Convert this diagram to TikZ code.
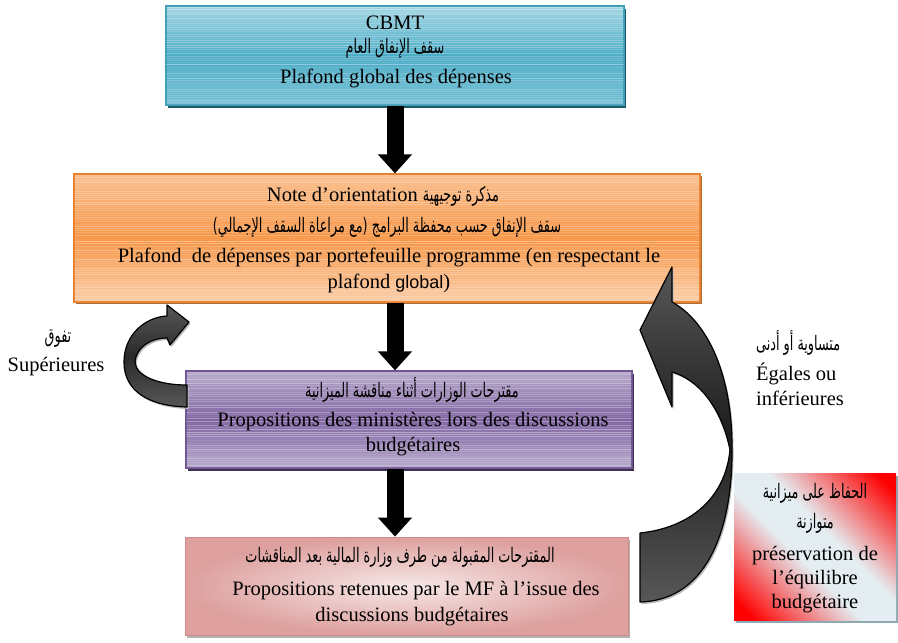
\documentclass[tikz,border=0pt]{standalone}
\usepackage{fontspec}
\setmainfont{Liberation Serif}
\newfontfamily\arabicfont[Script=Arabic,FakeStretch=0.64]{DejaVu Sans}
\newfontfamily\sansfnt{Liberation Sans}
\TeXXeTstate=1
\usetikzlibrary{shadows,arrows.meta}
\newcommand{\artxt}[1]{{\arabicfont\fontsize{20}{22}\selectfont\beginR #1\endR}}

\definecolor{tealA}{HTML}{A3D6E4}
\definecolor{tealB}{HTML}{4BACC6}
\definecolor{tealC}{HTML}{79C2D6}
\definecolor{tealBorder}{HTML}{3E9DB7}
\definecolor{tealShadow}{HTML}{215868}
\definecolor{orA}{HTML}{FAC090}
\definecolor{orB}{HTML}{F79646}
\definecolor{orC}{HTML}{FBCDA8}
\definecolor{orBorder}{HTML}{E8802E}
\definecolor{orShadow}{HTML}{974806}
\definecolor{puA}{HTML}{B7A8CB}
\definecolor{puB}{HTML}{8064A2}
\definecolor{puC}{HTML}{B9ABCE}
\definecolor{puBorder}{HTML}{6E5490}
\definecolor{puShadow}{HTML}{3F3151}
\definecolor{pkLight}{HTML}{F6E8E7}
\definecolor{pkDark}{HTML}{DDA09E}
\definecolor{pkBorder}{HTML}{D08A88}
\definecolor{lightbl}{HTML}{E4EEF2}
\definecolor{bxShadow}{HTML}{8EA9B4}
\definecolor{arrGray}{HTML}{575757}
\definecolor{arrDark}{HTML}{1E1E1E}

\pgfdeclarehorizontalshading{redcorners}{100bp}{color(0bp)=(red); color(19bp)=(red); color(44bp)=(lightbl); color(56bp)=(lightbl); color(81bp)=(red); color(100bp)=(red)}

\tikzset{
  box/.style={rectangle, inner sep=0pt, draw, line width=1.2pt},
  tealbox/.style={box, draw=tealBorder, top color=tealA, bottom color=tealC, middle color=tealB,
     drop shadow={shadow xshift=2pt, shadow yshift=-3pt, fill=tealShadow, opacity=1}},
  orbox/.style={box, draw=orBorder, top color=orA, bottom color=orC, middle color=orB,
     drop shadow={shadow xshift=1.5pt, shadow yshift=-2pt, fill=orShadow, opacity=0.8}},
  pubox/.style={box, draw=puBorder, top color=puA, bottom color=puC, middle color=puB,
     drop shadow={shadow xshift=1.5pt, shadow yshift=-2.5pt, fill=puShadow, opacity=1}},
  pkbox/.style={box, line width=0.8pt, draw=pkBorder, inner color=pkLight, outer color=pkDark,
     drop shadow={shadow xshift=2pt, shadow yshift=-3pt, fill=gray!60, opacity=1}},
  rdbox/.style={box, draw=none, shading=redcorners, shading angle=45,
     drop shadow={shadow xshift=2pt, shadow yshift=-3pt, fill=bxShadow, opacity=1}},
  txt/.style={inner sep=0pt, font=\fontsize{20.5}{24}\selectfont},
  downarrow/.style={draw=black, line width=17pt, -{Triangle[width=33pt,length=19pt]}},
  curvearrow/.style={draw=black, line width=1.2pt, line join=round,
     drop shadow={shadow xshift=1.5pt, shadow yshift=-2pt, fill=gray!55, opacity=1}},
  stripe/.style={white, line width=0.7pt},
}

\newcommand{\boxstripes}[2]{%
  \begin{scope}
    \clip ([shift={(1pt,1pt)}]#1.south west) rectangle ([shift={(-1pt,-1pt)}]#1.north east);
    \foreach \k in {1,...,#2} {%
      \pgfmathsetmacro\op{0.04+0.32*rnd}
      \draw[stripe, opacity=\op] ([yshift=-\k*2.2pt]#1.north west) -- ([yshift=-\k*2.2pt]#1.north east);
    }
  \end{scope}}

\begin{document}
\begin{tikzpicture}[x=1pt,y=-1pt]
\pgfmathsetseed{11}
\useasboundingbox (0,0) rectangle (898,643);

% boxes
\node[tealbox, minimum width=458pt, minimum height=99pt] (cbmt) at (395,55.5) {};
\node[orbox, minimum width=626pt, minimum height=128pt] (note) at (387,238) {};
\node[pubox, minimum width=446pt, minimum height=97pt] (prop) at (409,419.5) {};
\node[pkbox, minimum width=443pt, minimum height=98pt] (ret) at (406.5,586) {};
\node[rdbox, minimum width=162pt, minimum height=147pt] (equi) at (815,546.5) {};

\boxstripes{cbmt}{45}
\boxstripes{note}{58}
\boxstripes{prop}{44}

% box texts
\node[txt] (c1) at (395,23) {CBMT};
\node[txt] (c2) at (395,48) {\artxt{سقف الإنفاق العام}};
\node[txt] (c3) at (396,78) {Plafond global des dépenses};

\node[txt] (n1) at (383,196) {Note d’orientation\ \artxt{مذكرة توجيهية}};
\node[txt] (n2) at (387,227) {\artxt{سقف الإنفاق حسب محفظة البرامج (مع مراعاة السقف الإجمالي)}};
\node[txt] (n3) at (389,257) {Plafond\ \ de dépenses par portefeuille programme (en respectant le};
\node[txt] (n4) at (389,283) {plafond {\sansfnt\fontsize{18}{20}\selectfont global})};

\node[txt] (p1) at (412,390) {\artxt{مقترحات الوزارات أثناء مناقشة الميزانية}};
\node[txt] (p2) at (413,422) {Propositions des ministères lors des discussions};
\node[txt] (p3) at (413,447) {budgétaires};

\node[txt] (r1) at (400,557) {\artxt{المقترحات المقبولة من طرف وزارة المالية بعد المناقشات}};
\node[txt] (r2) at (416,591) {Propositions retenues par le MF à l’issue des};
\node[txt] (r3) at (412,617) {discussions budgétaires};

\node[txt] (e1) at (815,493) {\artxt{الحفاظ على ميزانية}};
\node[txt] (e2) at (815,523) {\artxt{متوازنة}};
\node[txt] (e3) at (815,556) {préservation de};
\node[txt] (e4) at (815,580) {l’équilibre};
\node[txt] (e5) at (815,604) {budgétaire};

% side labels
\node[txt] (s1) at (58,339) {\artxt{تفوق}};
\node[txt] (s2) at (56,367) {Supérieures};
\node[txt, anchor=west] (g1) at (756,343) {\artxt{متساوية أو أدنى}};
\node[txt, anchor=west] (g2) at (756,374) {Égales ou};
\node[txt, anchor=west] (g3) at (756,398) {inférieures};

% straight arrows
\coordinate (ax) at (395,0);
\draw[downarrow] (cbmt.south -| ax) -- (note.north -| ax);
\draw[downarrow] (note.south -| ax) -- (prop.north -| ax);
\draw[downarrow] (prop.south -| ax) -- (ret.north -| ax);

% left curved arrow (Supérieures)
\path[curvearrow, top color=arrGray, bottom color=arrGray, middle color=arrDark!80!arrGray]
  (187,407) .. controls (150,406) and (124,392) .. (124,362)
  .. controls (124,334) and (146,317) .. (167,316)
  -- (167,305) -- (189,322) -- (170,345) -- (167,338)
  .. controls (150,338) and (136,348) .. (135,362)
  .. controls (136,376) and (158,385) .. (187,385) -- cycle;

% right curved arrow (Égales ou inférieures)
\path[curvearrow, top color=arrGray, bottom color=arrGray, middle color=arrDark]
  (672,267) -- (672,302)
  .. controls (705,320) and (732,370) .. (732,447)
  .. controls (733,520) and (712,600) .. (640,602)
  -- (640,533)
  .. controls (688,528) and (725,500) .. (730,450)
  .. controls (722,410) and (700,380) .. (672,372)
  -- (672,407) -- (640,330) -- cycle;

\end{tikzpicture}
\end{document}
